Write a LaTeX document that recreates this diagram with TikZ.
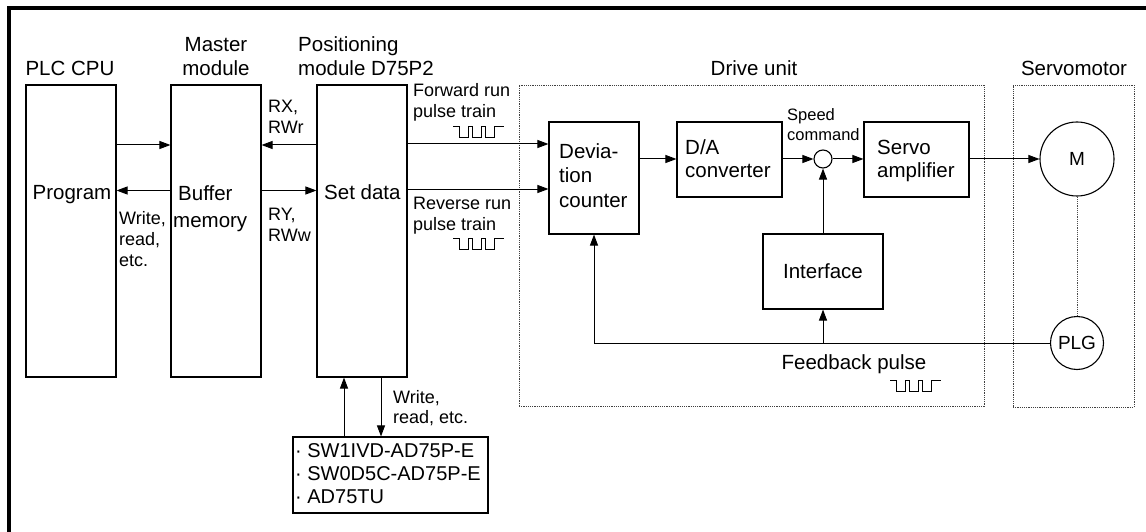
\documentclass[tikz,border=0pt]{standalone}
\usepackage{fontspec}
\setmainfont{Liberation Sans}
\usetikzlibrary{arrows.meta}
\tikzset{
  box/.style={draw, line width=1.1pt, inner sep=0},
  circ/.style={draw, circle, line width=1.1pt, inner sep=0, font=\fontsize{19}{22}\selectfont},
  dotbox/.style={draw, black!75, dash pattern=on 1.2pt off 1pt, line width=0.8pt, inner sep=0},
  dotln/.style={black!70, dash pattern=on 1.2pt off 1pt, line width=0.8pt},
  arr/.style={line width=1pt, -{Triangle[length=11pt,width=8pt]}},
  lbl/.style={inner sep=0, anchor=base west, align=left, font=\fontsize{20.5}{24}\selectfont},
  sm/.style={inner sep=0, anchor=base west, align=left, font=\fontsize{18}{21}\selectfont},
  xs/.style={inner sep=0, anchor=base west, align=left, font=\fontsize{16.5}{20}\selectfont},
  pulsetrain/.pic={\draw[line width=0.9pt] (0,0) -- (6,0) -- (6,11) -- (15,11) -- (15,0) -- (19,0) -- (19,11) -- (28,11) -- (28,0) -- (32,0) -- (32,11) -- (41,11) -- (41,0) -- (51,0);}
}
\begin{document}
\begin{tikzpicture}[x=1pt,y=-1pt]
\useasboundingbox (0,0) rectangle (1146,532);
\draw[line width=4pt, line join=miter] (9,532) -- (9,8) -- (1146,8);

% dotted enclosures
\node[dotbox, minimum width=465, minimum height=321] (drive) at (751.5,245.5) {};
\node[dotbox, minimum width=121, minimum height=322] (smot) at (1073.5,246) {};

% boxes
\node[box, minimum width=90, minimum height=292] (plc) at (71,231) {};
\node[box, minimum width=90, minimum height=292] (master) at (216,231) {};
\node[box, minimum width=90, minimum height=292] (pos) at (362,231) {};
\node[box, minimum width=90, minimum height=112] (dev) at (594,178) {};
\node[box, minimum width=105, minimum height=75] (da) at (729.5,159.5) {};
\node[box, minimum width=105, minimum height=75] (servo) at (916.5,159.5) {};
\node[box, minimum width=120, minimum height=75, font=\fontsize{20.5}{24}\selectfont] (iface) at (823,271.5) {Interface};
\node[box, minimum width=195, minimum height=76] (sw) at (390.5,475) {};
\node[circ, minimum size=18] (sum) at (823,159) {};
\node[circ, minimum size=74] (mot) at (1077,159) {M};
\node[circ, minimum size=53] (plg) at (1077,343) {PLG};

% titles (multi-line nodes: base = last line)
\node[lbl, anchor=base] (tplc) at (70,76) {PLC CPU};
\node[lbl, anchor=base, align=center] (tmaster) at (216,76) {Master\\module};
\node[lbl] (tpos) at (298,76) {Positioning\\module D75P2};
\node[lbl, anchor=base] (tdrive) at (754,76) {Drive unit};
\node[lbl, anchor=base] (tsmot) at (1074,76) {Servomotor};

% box texts
\node[lbl, anchor=base] (tprog) at (72,199) {Program};
\node[lbl, font=\fontsize{20.5}{27}\selectfont] (tbuf) at (173,227) {\hspace*{5pt}Buffer\\memory};
\node[lbl] (tset) at (324,200) {Set data};
\node[lbl, font=\fontsize{20.5}{24.5}\selectfont] (tdev) at (559,207) {Devia-\\tion\\counter};
\node[lbl, font=\fontsize{20.5}{23}\selectfont] (tda) at (685,178) {D/A\\converter};
\node[lbl, font=\fontsize{20.5}{23}\selectfont] (tservo) at (877,178) {Servo\\amplifier};
\node[lbl, anchor=base] (tfb) at (854,369) {Feedback pulse};
\node[lbl, font=\fontsize{20}{23}\selectfont] (tsw) at (295,503) {· SW1IVD-AD75P-E\\· SW0D5C-AD75P-E\\· AD75TU};

% small labels
\node[sm] (trx) at (268,134) {RX,\\RWr};
\node[sm] (try) at (268,241) {RY,\\RWw};
\node[sm] (twr) at (119,266) {Write,\\read,\\etc.};
\node[sm] (tfwd) at (413,118) {Forward run\\pulse train};
\node[sm] (trev) at (413,230) {Reverse run\\pulse train};
\node[sm, font=\fontsize{18}{20}\selectfont] (twr2) at (393,423) {Write,\\read, etc.};
\node[xs] (tspeed) at (787,141) {Speed\\command};

% pulse symbols
\pic at (453,126) {pulsetrain};
\pic at (453,238) {pulsetrain};
\pic at (890,380) {pulsetrain};

% helper coordinates
\coordinate (hA) at (0,145);
\coordinate (hB) at (0,190.5);
\coordinate (hF) at (0,144);
\coordinate (hR) at (0,189);
\coordinate (vU) at (344,0);
\coordinate (vD) at (381,0);

% connectors
\draw[arr] (plc.east |- hA) -- (master.west |- hA);
\draw[arr] (pos.west |- hA) -- (master.east |- hA);
\draw[arr] (master.west |- hB) -- (plc.east |- hB);
\draw[arr] (master.east |- hB) -- (pos.west |- hB);
\draw[arr] (pos.east |- hF) -- (dev.west |- hF);
\draw[arr] (pos.east |- hR) -- (dev.west |- hR);
\draw[arr] (dev.east |- sum) -- (da.west |- sum);
\draw[arr] (da.east |- sum) -- (sum.west);
\draw[arr] (sum.east) -- (servo.west |- sum);
\draw[arr] (servo.east |- mot) -- (mot.west);
\draw[arr] (iface.north) -- (sum.south);
\draw[arr] (plg.west) -- (dev.south |- plg) -- (dev.south);
\draw[arr] (iface.south |- plg) -- (iface.south);
\draw[dotln] (mot.south) -- (plg.north);
\draw[arr] (sw.north -| vU) -- (pos.south -| vU);
\draw[arr] (pos.south -| vD) -- (sw.north -| vD);
\end{tikzpicture}
\end{document}
